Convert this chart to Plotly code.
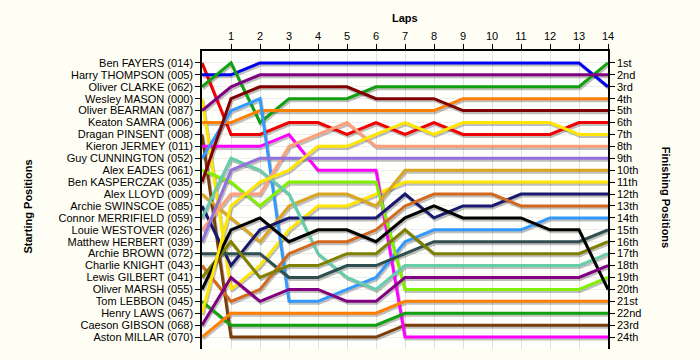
import plotly.graph_objects as go

laps = list(range(0, 15))

drivers = [
    "Ben FAYERS (014)", "Harry THOMPSON (005)", "Oliver CLARKE (062)", "Wesley MASON (000)",
    "Oliver BEARMAN (087)", "Keaton SAMRA (006)", "Dragan PINSENT (008)", "Kieron JERMEY (011)",
    "Guy CUNNINGTON (052)", "Alex EADES (061)", "Ben KASPERCZAK (035)", "Alex LLOYD (009)",
    "Archie SWINSCOE (085)", "Connor MERRIFIELD (059)", "Louie WESTOVER (026)", "Matthew HERBERT (039)",
    "Archie BROWN (072)", "Charlie KNIGHT (043)", "Lewis GILBERT (041)", "Oliver MARSH (055)",
    "Tom LEBBON (045)", "Henry LAWS (067)", "Caeson GIBSON (068)", "Aston MILLAR (070)",
]

finish_labels = ["1st", "2nd", "3rd"] + [f"{i}th" for i in range(4, 21)] + ["21st", "22nd", "23rd", "24th"]

# position of each driver at the end of each lap (lap 0 = grid)
pos_fayers     = [1, 7, 7, 6, 6, 7, 6, 7, 6, 7, 7, 7, 7, 6, 6]
pos_thompson   = [2, 2, 1, 1, 1, 1, 1, 1, 1, 1, 1, 1, 1, 1, 3]
pos_clarke     = [3, 1, 6, 4, 4, 4, 3, 3, 3, 3, 3, 3, 3, 3, 1]
pos_mason      = [4, 20, 18, 15, 13, 13, 12, 11, 11, 11, 11, 11, 11, 11, 11]
pos_bearman    = [5, 3, 2, 2, 2, 2, 2, 2, 2, 2, 2, 2, 2, 2, 2]
pos_samra      = [6, 6, 5, 5, 5, 5, 5, 5, 5, 4, 4, 4, 4, 4, 4]
pos_pinsent    = [7, 24, 24, 24, 24, 24, 24, 23, 23, 23, 23, 23, 23, 23, 23]
pos_jermey     = [8, 8, 8, 7, 10, 10, 10, 24, 24, 24, 24, 24, 24, 24, 24]
pos_cunnington = [9, 5, 4, 21, 21, 20, 19, 16, 15, 15, 15, 15, 14, 14, 14]
pos_eades      = [10, 11, 13, 11, 11, 11, 11, 20, 20, 20, 20, 20, 20, 20, 19]
pos_kasperczak = [11, 4, 3, 3, 3, 3, 4, 4, 4, 5, 5, 5, 5, 5, 5]
pos_lloyd      = [12, 14, 16, 13, 12, 12, 13, 10, 10, 10, 10, 10, 10, 10, 10]
pos_swinscoe   = [13, 18, 15, 14, 14, 14, 14, 12, 14, 13, 13, 12, 12, 12, 12]
pos_merrifield = [14, 9, 10, 12, 17, 19, 20, 18, 18, 18, 18, 18, 18, 18, 17]
pos_westover   = [15, 12, 12, 8, 7, 6, 8, 8, 8, 8, 8, 8, 8, 8, 8]
pos_herbert    = [16, 10, 9, 9, 9, 9, 9, 9, 9, 9, 9, 9, 9, 9, 9]
pos_brown      = [17, 17, 17, 19, 19, 18, 18, 17, 16, 16, 16, 16, 16, 16, 15]
pos_knight     = [18, 21, 20, 17, 16, 16, 15, 13, 12, 12, 12, 13, 13, 13, 13]
pos_gilbert    = [19, 16, 19, 18, 18, 17, 17, 15, 17, 17, 17, 17, 17, 17, 16]
pos_marsh      = [20, 15, 14, 16, 15, 15, 16, 14, 13, 14, 14, 14, 15, 15, 20]
pos_lebbon     = [21, 23, 23, 23, 23, 23, 23, 22, 22, 22, 22, 22, 22, 22, 22]
pos_laws       = [22, 13, 11, 10, 8, 8, 7, 6, 7, 6, 6, 6, 6, 7, 7]
pos_gibson     = [23, 19, 21, 20, 20, 21, 21, 19, 19, 19, 19, 19, 19, 19, 18]
pos_millar     = [24, 22, 22, 22, 22, 22, 22, 21, 21, 21, 21, 21, 21, 21, 21]

positions = [
    pos_fayers, pos_thompson, pos_clarke, pos_mason, pos_bearman, pos_samra, pos_pinsent, pos_jermey,
    pos_cunnington, pos_eades, pos_kasperczak, pos_lloyd, pos_swinscoe, pos_merrifield, pos_westover,
    pos_herbert, pos_brown, pos_knight, pos_gilbert, pos_marsh, pos_lebbon, pos_laws, pos_gibson, pos_millar,
]

colors = [
    "#F00000", "#0000F0", "#10A010", "#FFE600", "#800080", "#FF8000", "#7A3E0A", "#FF00FF",
    "#3399FF", "#80F000", "#800000", "#DAA520", "#191970", "#66CDAA", "#FFA07A", "#9370DB",
    "#2F4F4F", "#D2691E", "#808000", "#000000", "#10A010", "#FFE600", "#800080", "#FF8000",
]

FONT = "Arial, Liberation Sans, sans-serif"

fig = go.Figure()

# shadows
for p in positions:
    fig.add_trace(go.Scatter(
        x=[l + 0.04 for l in laps], y=[v + 0.17 for v in p], mode="lines",
        line=dict(color="rgba(0,0,0,0.25)", width=3), hoverinfo="skip", showlegend=False,
    ))

for name, p, c in zip(drivers, positions, colors):
    fig.add_trace(go.Scatter(
        x=laps, y=p, mode="lines", name=name,
        line=dict(color=c, width=3), showlegend=False,
    ))

# invisible trace to anchor the right axis
fig.add_trace(go.Scatter(x=[laps[0]], y=[1], yaxis="y2", mode="markers",
                         marker=dict(opacity=0), hoverinfo="skip", showlegend=False))

rows = list(range(1, 25))

fig.update_layout(
    width=700, height=360,
    margin=dict(l=202, r=92, t=51, b=11),
    paper_bgcolor="#FFFEF4",
    plot_bgcolor="#FFFFFC",
    font=dict(family=FONT, size=11, color="#000000"),
    xaxis=dict(
        side="top", range=[0, 14], tickvals=list(range(1, 15)),
        showgrid=True, gridcolor="#E2E2E2", gridwidth=1,
        showline=True, linecolor="#000000", linewidth=1.5,
        ticks="outside", ticklen=5, tickcolor="#000000",
        tickfont=dict(size=11), zeroline=False,
    ),
    yaxis=dict(
        range=[25, 0], tickvals=rows, ticktext=drivers,
        showgrid=True, gridcolor="#EDEDED", gridwidth=1,
        showline=True, linecolor="#000000", linewidth=1.5,
        ticks="outside", ticklen=5, tickcolor="#000000",
        tickfont=dict(size=11), zeroline=False,
    ),
    yaxis2=dict(
        overlaying="y", side="right", range=[25, 0], tickvals=rows, ticktext=finish_labels,
        showgrid=False, showline=True, linecolor="#000000", linewidth=1.5,
        ticks="outside", ticklen=5, tickcolor="#000000",
        tickfont=dict(size=11), zeroline=False,
    ),
    annotations=[
        dict(text="<b>Laps</b>", xref="paper", yref="paper", x=0.5, y=1.111,
             showarrow=False, font=dict(size=11), xanchor="center", yanchor="middle"),
        dict(text="<b>Starting Positions</b>", xref="paper", yref="paper", x=-0.4286, y=0.478,
             showarrow=False, textangle=-90, font=dict(size=11), xanchor="center", yanchor="middle"),
        dict(text="<b>Finishing Positions</b>", xref="paper", yref="paper", x=1.145, y=0.508,
             showarrow=False, textangle=90, font=dict(size=11), xanchor="center", yanchor="middle"),
    ],
)

fig.write_html(
    "out.html",
    config={"displayModeBar": False},
    post_script="document.body.style.margin='0';document.body.style.background='#FFFEF4';",
)
